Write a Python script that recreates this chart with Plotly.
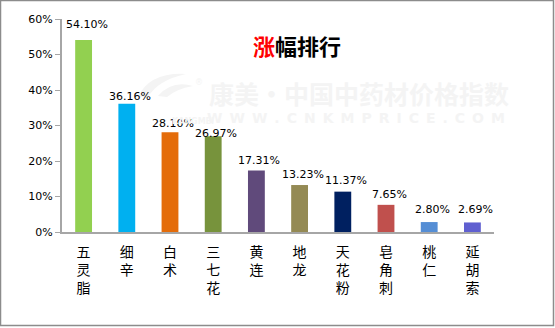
import plotly.graph_objects as go

# Price-rise ranking of Chinese medicinal herbs
herbs = ["五灵脂", "细辛", "白术", "三七花", "黄连", "地龙", "天花粉", "皂角刺", "桃仁", "延胡索"]
rise_pct = [54.10, 36.16, 28.10, 26.97, 17.31, 13.23, 11.37, 7.65, 2.80, 2.69]
bar_colors = ["#92D050", "#00B0F0", "#E46C0A", "#77933C", "#604A7B",
              "#948A54", "#002060", "#C0504D", "#558ED5", "#5F5FD0"]
y_ticks = [0, 10, 20, 30, 40, 50, 60]
# vertical nudge (px) for each value label
label_lift = [7, -1, 0, -6, 2, 2, 3, 2, 4, 4]

W, H = 555, 328
ML, MR, MT, MB = 62, 61, 19, 96
PW, PH = W - ML - MR, H - MT - MB

# stack the characters of each name vertically
tick_text = ["<br>".join(list(n)) for n in herbs]

fig = go.Figure(go.Bar(
    x=herbs,
    y=rise_pct,
    marker=dict(color=bar_colors, line=dict(width=0)),
    width=0.39,
    cliponaxis=False,
))

# value labels sitting above each bar
for name, v, lift in zip(herbs, rise_pct, label_lift):
    fig.add_annotation(x=name, y=v, xref="x", yref="y", text=f"{v:.2f}%",
                       showarrow=False, yanchor="bottom", yshift=lift, xshift=3,
                       font=dict(family="DejaVu Sans", size=11, color="#000000"))

def px_x(px):
    return (px - ML) / PW

def px_y(py):
    return 1 - (py - MT) / PH

def path(cmds):
    out = []
    for c in cmds:
        if isinstance(c, str):
            out.append(c)
        else:
            out.append(f"{px_x(c[0]):.4f},{px_y(c[1]):.4f}")
    return " ".join(out)

# faint watermark: swoosh logo, brand name and web address
WM = "#F4F4F4"
fig.add_shape(type="path", xref="paper", yref="paper", layer="below",
              path=path(["M", (138, 97), "Q", (150, 72), (186, 74),
                         "Q", (158, 80), (148, 97), "Z"]),
              fillcolor=WM, line=dict(width=0))
fig.add_shape(type="path", xref="paper", yref="paper", layer="below",
              path=path(["M", (158, 96), "Q", (172, 80), (193, 86),
                         "Q", (176, 89), (167, 97), "Z"]),
              fillcolor=WM, line=dict(width=0))
fig.add_annotation(x=px_x(193), y=px_y(76), xref="paper", yref="paper",
                   text="®", showarrow=False,
                   font=dict(family="DejaVu Sans", size=8, color=WM))
fig.add_annotation(x=px_x(170), y=px_y(121), xref="paper", yref="paper",
                   text="<b>KANGMEI</b>", showarrow=False,
                   font=dict(family="DejaVu Sans", size=8, color=WM))
fig.add_annotation(x=px_x(207), y=px_y(93), xref="paper", yref="paper",
                   xanchor="left", yanchor="middle",
                   text="<b>康美·中国中药材价格指数</b>", showarrow=False,
                   font=dict(family="Noto Sans CJK SC", size=25, color=WM))
fig.add_annotation(x=px_x(205), y=px_y(118), xref="paper", yref="paper",
                   xanchor="left", yanchor="middle",
                   text="<b>" + "\u2002".join("WWW.CNKMPRICE.COM") + "</b>", showarrow=False,
                   font=dict(family="DejaVu Sans", size=14, color=WM))

# title with the first character in red
fig.add_annotation(x=px_x(297), y=px_y(27), xref="paper", yref="paper",
                   text="<b><span style='color:#FF0000'>涨</span>幅排行</b>", showarrow=False,
                   font=dict(family="Noto Sans CJK SC", size=22, color="#000000"))

# outer frame
fig.add_shape(type="rect", xref="paper", yref="paper",
              x0=px_x(0.5), x1=px_x(553.5), y0=px_y(325.5), y1=px_y(0.5),
              line=dict(color="#8C8C8C", width=1.5), layer="above")

fig.update_layout(
    width=W, height=H,
    margin=dict(l=ML, r=MR, t=MT, b=MB),
    paper_bgcolor="#FFFFFF",
    plot_bgcolor="#FFFFFF",
    showlegend=False,
    xaxis=dict(
        tickmode="array", tickvals=herbs, ticktext=tick_text,
        showline=True, linecolor="#A6A6A6", linewidth=2,
        ticks="", showgrid=False, ticklabelstandoff=6,
        tickfont=dict(family="Noto Sans CJK SC", size=14, color="#000000"),
        range=[-0.5, 9.5],
    ),
    yaxis=dict(
        range=[0, 60],
        tickmode="array", tickvals=y_ticks,
        ticktext=[f"{t}%" for t in y_ticks],
        showline=True, linecolor="#A6A6A6", linewidth=2,
        ticks="outside", ticklen=5, tickcolor="#A6A6A6", tickwidth=1,
        showgrid=False, zeroline=False,
        tickfont=dict(family="DejaVu Sans", size=11, color="#000000"),
    ),
)

fig.write_html("out.html")
